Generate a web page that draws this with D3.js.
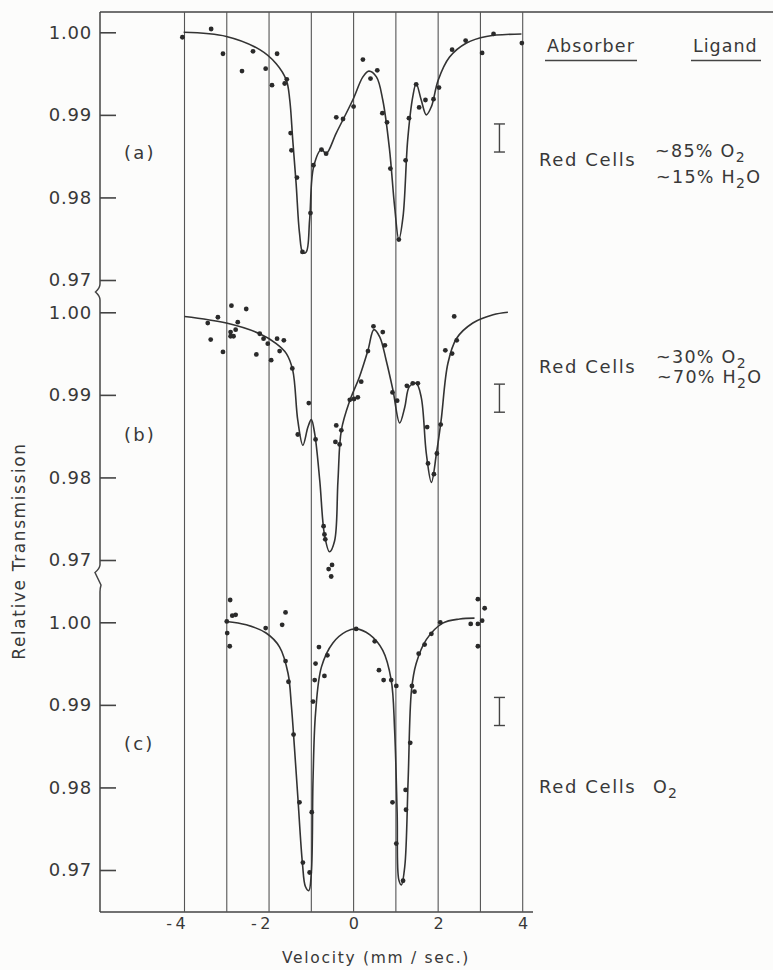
<!DOCTYPE html>
<html>
<head>
<meta charset="utf-8">
<script src="https://cdn.jsdelivr.net/npm/d3@7"></script>
<style>
  html, body { margin: 0; padding: 0; background: #fcfcfb; }
  svg { display: block; }
  text { font-family: "DejaVu Sans", sans-serif; fill: #383838; }
</style>
</head>
<body>
<svg id="chart" width="773" height="970"></svg>
<script>
// ---------------- DATA ----------------
const gridVelocities = [-4, -3, -2, -1, 0, 1, 2, 3, 4];
const xTickLabels = [-4, -2, 0, 2, 4];
const yTicks = [0.97, 0.98, 0.99, 1.00];
const panelLabels = ["(a)", "(b)", "(c)"];
const absorbers = ["Red Cells", "Red Cells", "Red Cells"];
const errorBarVelocity = 3.45;
const errorCenters = [0.9872, 0.9896, 0.9892];
const errorHalf = 0.0017;

// panel (a): ~85% O2 / ~15% H2O — fitted curve [velocity, transmission]
const curveA = [[-4.02,1.0000],[-3.01,0.9995],[-2.22,0.9979],[-1.83,0.9962],[-1.59,0.9942],[-1.51,0.9918],
  [-1.44,0.9870],[-1.36,0.9817],[-1.28,0.9757],[-1.20,0.9733],[-1.12,0.9734],[-1.04,0.9773],[-0.946,0.9837],
  [-0.76,0.9858],[-0.65,0.9853],[-0.41,0.9878],[-0.02,0.9918],[0.22,0.9946],[0.36,0.9953],[0.54,0.9946],
  [0.69,0.9918],[0.85,0.9858],[0.97,0.9789],[1.07,0.9749],[1.17,0.9777],[1.28,0.9870],[1.40,0.9922],
  [1.48,0.9938],[1.60,0.9918],[1.72,0.9900],[1.84,0.9910],[2.00,0.9942],[2.27,0.9970],[2.67,0.9987],
  [3.14,0.9995],[3.97,0.9998]];
const dotsA = [[-4.05,0.9994],[-3.37,1.0004],[-3.09,0.9974],[-2.64,0.9953],[-2.38,0.9977],[-2.08,0.9956],
  [-1.93,0.9936],[-1.81,0.9974],[-1.63,0.9938],[-1.58,0.9943],[-1.49,0.9878],[-1.47,0.9857],[-1.34,0.9824],
  [-1.21,0.9734],[-1.02,0.9781],[-0.95,0.9839],[-0.76,0.9858],[-0.65,0.9853],[-0.41,0.9897],[-0.25,0.9895],
  [0.00,0.9910],[0.22,0.9967],[0.40,0.9944],[0.56,0.9954],[0.68,0.9902],[0.79,0.9891],[0.87,0.9835],
  [1.07,0.9749],[1.23,0.9845],[1.31,0.9896],[1.48,0.9937],[1.55,0.9909],[1.70,0.9918],[1.89,0.9919],
  [2.02,0.9933],[2.33,0.9979],[2.65,0.9990],[3.04,0.9975],[3.31,0.9998],[3.98,0.9987]];

// panel (b): ~30% O2 / ~70% H2O
const curveB = [[-4.00,0.9995],[-3.01,0.9987],[-2.22,0.9974],[-1.83,0.9962],[-1.59,0.9950],[-1.44,0.9930],
  [-1.32,0.9869],[-1.20,0.9839],[-1.08,0.9861],[-1.00,0.9870],[-0.92,0.9853],[-0.80,0.9796],[-0.69,0.9731],
  [-0.57,0.9710],[-0.45,0.9723],[-0.37,0.9796],[-0.29,0.9857],[-0.09,0.9893],[0.14,0.9922],[0.34,0.9954],
  [0.48,0.9979],[0.62,0.9970],[0.77,0.9942],[0.93,0.9906],[1.09,0.9866],[1.21,0.9885],[1.32,0.9910],
  [1.48,0.9914],[1.60,0.9897],[1.72,0.9829],[1.84,0.9794],[1.96,0.9829],[2.07,0.9869],[2.23,0.9938],
  [2.43,0.9968],[2.82,0.9987],[3.30,0.9997],[3.65,1.0000]];
const dotsB = [[-3.45,0.9987],[-3.38,0.9967],[-3.21,0.9994],[-3.09,0.9952],[-2.89,1.0008],[-2.91,0.9976],
  [-2.91,0.9971],[-2.84,0.9971],[-2.79,0.9979],[-2.74,0.9988],[-2.54,1.0004],[-2.30,0.9949],[-2.22,0.9974],
  [-2.13,0.9968],[-2.03,0.9962],[-1.95,0.9942],[-1.81,0.9968],[-1.75,0.9953],[-1.65,0.9966],[-1.45,0.9932],
  [-1.32,0.9852],[-1.06,0.9890],[-0.90,0.9846],[-0.71,0.9741],[-0.69,0.9731],[-0.67,0.9725],[-0.51,0.9694],
  [-0.59,0.9689],[-0.53,0.9680],[-0.41,0.9863],[-0.43,0.9843],[-0.33,0.9840],[-0.29,0.9857],[-0.09,0.9894],
  [0.01,0.9895],[0.10,0.9897],[0.18,0.9916],[0.34,0.9953],[0.47,0.9983],[0.69,0.9976],[0.74,0.9960],
  [0.92,0.9903],[1.03,0.9893],[1.26,0.9911],[1.40,0.9914],[1.52,0.9914],[1.74,0.9861],[1.76,0.9817],
  [1.90,0.9804],[1.97,0.9829],[2.06,0.9864],[2.17,0.9954],[2.33,0.9950],[2.38,0.9995],[2.44,0.9966]];

// panel (c): O2
const curveC = [[-3.01,1.0001],[-2.54,0.9997],[-2.07,0.9987],[-1.75,0.9970],[-1.55,0.9938],[-1.47,0.9898],
  [-1.40,0.9849],[-1.32,0.9789],[-1.21,0.9708],[-1.14,0.9680],[-1.06,0.9675],[-1.00,0.9696],[-0.96,0.9809],
  [-0.90,0.9890],[-0.76,0.9946],[-0.49,0.9975],[-0.17,0.9989],[0.06,0.9992],[0.38,0.9985],[0.69,0.9966],
  [0.89,0.9930],[0.97,0.9870],[1.03,0.9769],[1.07,0.9688],[1.13,0.9682],[1.21,0.9704],[1.29,0.9809],
  [1.37,0.9918],[1.48,0.9950],[1.72,0.9979],[2.11,0.9999],[2.51,1.0004],[2.86,1.0005]];
const dotsC = [[-3.00,1.0001],[-2.99,0.9987],[-2.93,0.9971],[-2.92,1.0027],[-2.87,1.0008],[-2.79,1.0009],
  [-2.08,0.9993],[-1.69,0.9997],[-1.61,1.0012],[-1.61,0.9953],[-1.54,0.9928],[-1.42,0.9864],[-1.28,0.9782],
  [-1.20,0.9709],[-1.04,0.9697],[-0.99,0.9770],[-0.96,0.9904],[-0.92,0.9930],[-0.90,0.9950],[-0.82,0.9970],
  [-0.69,0.9935],[-0.62,0.9960],[0.06,0.9992],[0.50,0.9977],[0.60,0.9942],[0.71,0.9930],[0.89,0.9930],
  [1.01,0.9923],[0.92,0.9782],[1.01,0.9732],[1.17,0.9687],[1.23,0.9797],[1.24,0.9773],[1.34,0.9854],
  [1.38,0.9923],[1.44,0.9916],[1.54,0.9962],[1.68,0.9973],[1.84,0.9986],[2.05,1.0000],[2.77,0.9998],
  [2.94,1.0028],[2.94,0.9998],[2.94,0.9971],[3.04,1.0002],[3.10,1.0017]];

const curves = [curveA, curveB, curveC];
const dots = [dotsA, dotsB, dotsC];

// ---------------- LAYOUT ----------------
const svg = d3.select("#chart");
const axisX0 = 100, frameTop = 12, frameBottom = 912;
const panelTop = [32.3, 312.3, 622.3];
const panelH = 247.7;
const ink = "#333";

const x = d3.scaleLinear().domain([-4, 4]).range([184.5, 522.7]);
const yScales = panelTop.map(t => d3.scaleLinear().domain([0.97, 1.00]).range([t + panelH, t]));

// top border
svg.append("line").attr("x1", axisX0).attr("x2", 773).attr("y1", frameTop).attr("y2", frameTop)
  .attr("stroke", "#444").attr("stroke-width", 1.4);
// bottom axis line
svg.append("line").attr("x1", axisX0).attr("x2", 533).attr("y1", frameBottom).attr("y2", frameBottom)
  .attr("stroke", "#444").attr("stroke-width", 1.6);
// left axis with break marks
svg.append("path")
  .attr("d", `M${axisX0},${frameTop} V284 Q100,288 95.5,292 Q100,296 100,300 V565 Q99.5,569 95,572.5 L101,585 Q100,588.5 100,592 V${frameBottom}`)
  .attr("fill", "none").attr("stroke", "#444").attr("stroke-width", 1.5);

// vertical grid lines
svg.append("g").selectAll("line").data(gridVelocities).join("line")
  .attr("x1", d => x(d)).attr("x2", d => x(d))
  .attr("y1", frameTop).attr("y2", frameBottom)
  .attr("stroke", "#555").attr("stroke-width", 1.1);

// x axis labels
const xAxis = svg.append("g").attr("transform", `translate(0,${frameBottom})`)
  .call(d3.axisBottom(x).tickValues(xTickLabels).tickSize(0)
    .tickFormat(d => d < 0 ? "-" + Math.abs(d) : String(d)));
xAxis.select(".domain").remove();
xAxis.selectAll("text")
  .attr("y", 17).attr("dy", 0)
  .attr("dx", d => d < 0 ? "-0.45em" : "0.1em")
  .style("font-family", '"DejaVu Sans", sans-serif')
  .style("font-size", "16px").style("letter-spacing", "3.5px").style("fill", "#383838");

svg.append("text").attr("x", 376).attr("y", 963).attr("text-anchor", "middle")
  .style("font-size", "15.5px").style("letter-spacing", "1.7px")
  .text("Velocity (mm / sec.)");

// y axis title
svg.append("text").attr("transform", "translate(25,551) rotate(-90)").attr("text-anchor", "middle")
  .style("font-size", "17px").style("letter-spacing", "1.6px")
  .text("Relative  Transmission");

const line = d3.line().x(d => x(d[0])).curve(d3.curveCatmullRom.alpha(0.5));

yScales.forEach((y, i) => {
  const yAxis = svg.append("g").attr("transform", `translate(${axisX0},0)`)
    .call(d3.axisLeft(y).tickValues(yTicks).tickSize(-16).tickPadding(8).tickFormat(d3.format(".2f")));
  yAxis.select(".domain").remove();
  yAxis.selectAll(".tick line").attr("stroke", "#444").attr("stroke-width", 1.6);
  yAxis.selectAll("text")
    .style("font-family", '"DejaVu Sans", sans-serif')
    .style("font-size", "18px").style("letter-spacing", "0.8px").style("fill", "#383838");

  // curve
  svg.append("path").datum(curves[i])
    .attr("d", line.y(d => y(d[1])))
    .attr("fill", "none").attr("stroke", ink).attr("stroke-width", 1.6);

  // points
  svg.append("g").selectAll("circle").data(dots[i]).join("circle")
    .attr("cx", d => x(d[0])).attr("cy", d => y(d[1])).attr("r", 2.4).attr("fill", "#2a2a2a");

  // error bar
  const eb = svg.append("g").attr("stroke", "#444").attr("stroke-width", 1.4);
  const ex = x(errorBarVelocity);
  eb.append("line").attr("x1", ex).attr("x2", ex)
    .attr("y1", y(errorCenters[i] + errorHalf)).attr("y2", y(errorCenters[i] - errorHalf));
  [errorHalf, -errorHalf].forEach(h => {
    eb.append("line").attr("x1", ex - 5.5).attr("x2", ex + 5.5)
      .attr("y1", y(errorCenters[i] + h)).attr("y2", y(errorCenters[i] + h));
  });

  // panel label
  svg.append("text").attr("x", 124).attr("y", y(0.99) + (i === 0 ? 44 : i === 1 ? 46 : 45))
    .style("font-size", "18px").style("letter-spacing", "2.2px")
    .text(panelLabels[i]);

  // absorber
  svg.append("text").attr("x", 539).attr("y", [166, 373, 793][i])
    .style("font-size", "18px").style("letter-spacing", "1.6px")
    .text(absorbers[i]);
});

// header
svg.append("text").attr("x", 547).attr("y", 52).style("font-size", "17.5px").style("letter-spacing", "1.1px").text("Absorber");
svg.append("text").attr("x", 693).attr("y", 52).style("font-size", "17.5px").style("letter-spacing", "1px").text("Ligand");
svg.append("line").attr("x1", 545).attr("x2", 637).attr("y1", 60.5).attr("y2", 60.5).attr("stroke", "#444").attr("stroke-width", 1.3);
svg.append("line").attr("x1", 691).attr("x2", 761).attr("y1", 60.5).attr("y2", 60.5).attr("stroke", "#444").attr("stroke-width", 1.3);

// ligands with subscripts
function ligand(xp, yp, parts) {
  const t = svg.append("text").attr("x", xp).attr("y", yp)
    .style("font-size", "17.5px").style("letter-spacing", "1.3px");
  parts.forEach(p => {
    if (p.sub) {
      t.append("tspan").attr("dy", 5).style("font-size", "14px").text(p.sub);
    } else {
      t.append("tspan").attr("dy", p.after ? -5 : 0).text(p.txt);
    }
  });
}
ligand(655, 157, [{txt: "~85% O"}, {sub: "2"}]);
ligand(656, 183, [{txt: "~15% H"}, {sub: "2"}, {txt: "O", after: true}]);
ligand(656, 363, [{txt: "~30% O"}, {sub: "2"}]);
ligand(657, 383, [{txt: "~70% H"}, {sub: "2"}, {txt: "O", after: true}]);
ligand(653, 793, [{txt: "O"}, {sub: "2"}]);
</script>
</body>
</html>
